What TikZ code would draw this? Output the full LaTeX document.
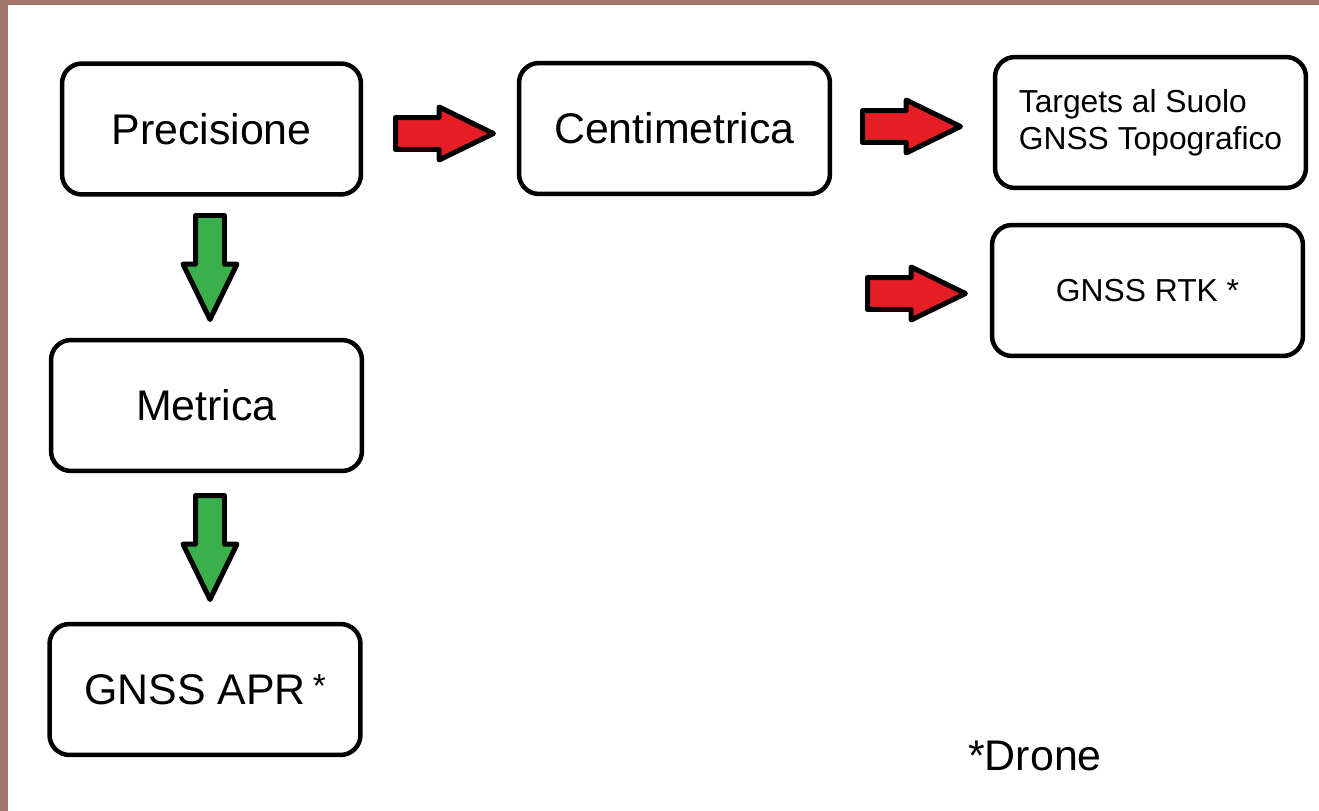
\documentclass[tikz,border=0pt]{standalone}
\usepackage{fontspec}
\setmainfont{Liberation Sans}
\usetikzlibrary{shapes.arrows}

\definecolor{framebrown}{RGB}{161,117,104}
\definecolor{arrowred}{RGB}{232,30,38}
\definecolor{arrowgreen}{RGB}{58,176,76}

\begin{document}
\begin{tikzpicture}[x=0.02cm, y=-0.02cm,
  bigtext/.style={font=\fontsize{24.4}{29}\selectfont},
  smalltext/.style={font=\fontsize{18.1}{21}\selectfont},
  box/.style={draw, line width=0.09cm, rounded corners=0.4cm, minimum width=6.22cm, minimum height=2.62cm, align=center, bigtext},
  blockarrow/.style={single arrow, draw, line width=0.1cm, line join=round, inner xsep=0pt, single arrow tip angle=52, anchor=tail},
  redarrow/.style={blockarrow, fill=arrowred, inner ysep=0.27cm, minimum height=1.96cm, single arrow head extend=0.21cm},
  greenarrow/.style={blockarrow, fill=arrowgreen, inner ysep=0.24cm, minimum height=2.08cm, single arrow head extend=0.25cm, rotate=-90}]

\useasboundingbox (0,0) rectangle (1319,811);
\fill[framebrown] (0,0) rectangle (1319,5);
\fill[framebrown] (0,0) rectangle (8,811);

\node[box, minimum width=5.98cm] (prec) at (211.5,129) {Precisione};
\node[box] (cent) at (674.5,128.5) {Centimetrica};
\node[box, smalltext, align=left] (targ) at (1150.5,122.5) {Targets al Suolo\\GNSS Topografico};
\node[box, smalltext] (rtk) at (1147.5,290.5) {GNSS RTK *};
\node[box] (metr) at (206.5,405.5) {Metrica};
\node[box] (apr) at (205,689.5) {GNSS APR\,\raisebox{0.14cm}{\fontsize{19}{19}\selectfont *}};

\node[redarrow] (r1) at (393,133.5) {};
\node[redarrow] (r2) at (860,126.5) {};
\node[redarrow] (r3) at (865,293.5) {};

\node[greenarrow] (g1) at (210,213) {};
\node[greenarrow] (g2) at (210,493) {};

\node[bigtext] (drone) at (1035,756) {*Drone};

\end{tikzpicture}
\end{document}
